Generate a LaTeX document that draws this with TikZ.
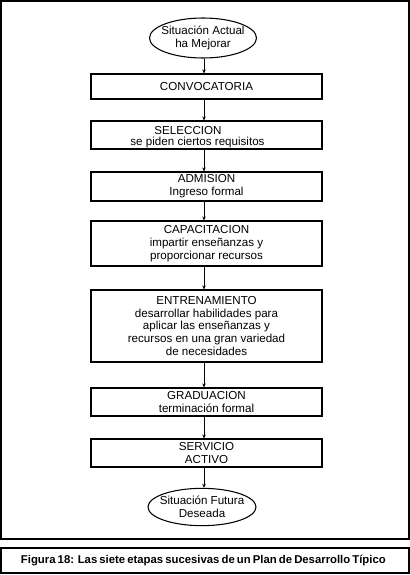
\documentclass[tikz,border=0pt]{standalone}
\usepackage{fontspec}
\setmainfont{Liberation Sans}
\usetikzlibrary{shapes.geometric,arrows.meta}
\begin{document}
\begin{tikzpicture}[x=0.75pt,y=-0.75pt,
  stagebox/.style={draw,line width=0.8pt,minimum width=173.25pt,inner sep=0pt,align=center,
    font=\fontsize{8.7pt}{9.7pt}\selectfont},
  ovalbox/.style={draw,ellipse,line width=0.8pt,inner xsep=-9pt,inner ysep=-3pt,align=center,
    font=\fontsize{8.7pt}{9.7pt}\selectfont},
  arr/.style={line width=0.7pt,-{Stealth[length=3pt,width=2.6pt]}},
  frame/.style={line width=1.4pt}]
\useasboundingbox (0,0) rectangle (410,575);
\draw[frame] (1,1) rectangle (409,539);
\draw[frame] (1,548) rectangle (409,573);
\coordinate (ax) at (204,0);

\node[ovalbox,minimum width=80.25pt,minimum height=30pt] (e1) at (203,38) {Situación Actual\\ha Mejorar};
\node[stagebox,minimum height=18.75pt] (conv) at (206.5,86.5) {CONVOCATORIA};
\node[stagebox,minimum height=21pt] (sel) at (206.5,135) {};
\begin{scope}
  \clip (92,121) rectangle (321,147);
  \node[anchor=base,inner sep=0pt,font=\fontsize{8.7pt}{9.7pt}\selectfont] (sel1) at (188,134) {SELECCION};
  \node[anchor=base,inner sep=0pt,font=\fontsize{8.7pt}{9.7pt}\selectfont] (sel2) at (197.5,145.8) {se piden ciertos requisitos};
\end{scope}
\node[stagebox,minimum height=21.75pt] (adm) at (206.5,186.5) {ADMISION\\Ingreso formal};
\node[stagebox,minimum height=33.75pt] (cap) at (206.5,243.5) {CAPACITACION\\impartir enseñanzas y\\proporcionar recursos};
\node[stagebox,minimum height=54pt] (ent) at (206.5,326) {ENTRENAMIENTO\\desarrollar habilidades para\\aplicar las enseñanzas y\\recursos en una gran variedad\\de necesidades};
\node[stagebox,minimum height=21pt] (grad) at (206.5,402) {GRADUACION\\terminación formal};
\node[stagebox,minimum height=21pt] (serv) at (206.5,453) {SERVICIO\\ACTIVO};
\node[ovalbox,minimum width=81pt,minimum height=28pt] (e2) at (202,507) {Situación Futura\\Deseada};

\draw[arr] (e1.south -| ax) -- (conv.north -| ax);
\draw[arr] (conv.south -| ax) -- (sel.north -| ax);
\draw[arr] (sel.south -| ax) -- (adm.north -| ax);
\draw[arr] (adm.south -| ax) -- (cap.north -| ax);
\draw[arr] (cap.south -| ax) -- (ent.north -| ax);
\draw[arr] (ent.south -| ax) -- (grad.north -| ax);
\draw[arr] (grad.south -| ax) -- (serv.north -| ax);
\draw[arr] (serv.south -| ax) -- (e2.north -| ax);

\node[inner sep=0pt,font=\bfseries\fontsize{8.5pt}{9.6pt}\selectfont] (cap18) at (201.5,560.5)
  {\makebox[270.75pt][s]{Figura 18: Las siete etapas sucesivas de un Plan de Desarrollo Típico}};
\end{tikzpicture}
\end{document}
